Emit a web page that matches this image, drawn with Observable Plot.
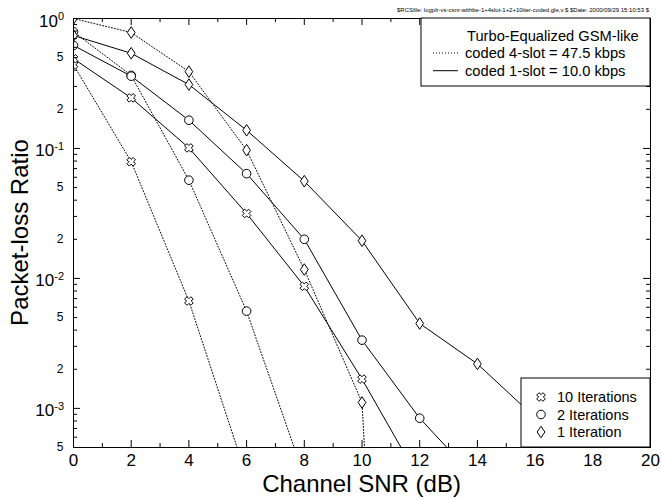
<!DOCTYPE html>
<html>
<head>
<meta charset="utf-8">
<script src="https://cdn.jsdelivr.net/npm/d3@7"></script>
<script src="https://cdn.jsdelivr.net/npm/@observablehq/plot@0.6"></script>
<style>
  html, body { margin: 0; padding: 0; background: #fff; }
  #chart { width: 662px; height: 500px; }
</style>
</head>
<body>
<div id="chart"></div>
<script>
// ---------- data ----------
const xTicks = [0, 2, 4, 6, 8, 10, 12, 14, 16, 18, 20];
const xMinorTicks = [1, 3, 5, 7, 9, 11, 13, 15, 17, 19];
const yDecades = [1, 0.1, 0.01, 0.001];
const yDecadeExponents = ["0", "-1", "-2", "-3"];
const yMinorLabelled = [0.5, 0.2, 0.05, 0.02, 0.005, 0.002, 0.0005];
const yMinorLabels = ["5", "2", "5", "2", "5", "2", "5"];
const yMinorTicks = [0.9, 0.8, 0.7, 0.6, 0.5, 0.4, 0.3, 0.2,
                     0.09, 0.08, 0.07, 0.06, 0.05, 0.04, 0.03, 0.02,
                     0.009, 0.008, 0.007, 0.006, 0.005, 0.004, 0.003, 0.002,
                     0.0009, 0.0008, 0.0007, 0.0006];

// coded 4-slot = 47.5 kbps (dotted)
const slot4Iter10X = [0, 2, 4, 6];
const slot4Iter10Y = [0.44, 0.079, 0.0067, 0.0003];
const slot4Iter2X = [0, 2, 4, 6, 8];
const slot4Iter2Y = [0.79, 0.365, 0.057, 0.0056, 0.0003];
const slot4Iter1X = [0, 2, 4, 6, 8, 10, 11];
const slot4Iter1Y = [1.0, 0.78, 0.39, 0.097, 0.0117, 0.00111, 0.0000001];

// coded 1-slot = 10.0 kbps (solid)
const slot1Iter10X = [0, 2, 4, 6, 8, 10, 12];
const slot1Iter10Y = [0.49, 0.245, 0.101, 0.0316, 0.0087, 0.00168, 0.00028];
const slot1Iter2X = [0, 2, 4, 6, 8, 10, 12, 14];
const slot1Iter2Y = [0.62, 0.36, 0.165, 0.064, 0.020, 0.00335, 0.00084, 0.00028];
const slot1Iter1X = [0, 2, 4, 6, 8, 10, 12, 14, 16];
const slot1Iter1Y = [0.74, 0.54, 0.31, 0.138, 0.056, 0.0195, 0.0045, 0.0022, 0.00085];

const legendTitle = "Turbo-Equalized GSM-like";
const slotLabels = ["coded 4-slot = 47.5 kbps", "coded 1-slot = 10.0 kbps"];
const iterLabels = ["10 Iterations", "2 Iterations", "1 Iteration"];
const xLabel = "Channel SNR (dB)";
const yLabel = "Packet-loss Ratio";
const header = "$RCSfile: logplr-vs-csnr-withbe-1+4slot-1+2+10iter-coded.gle,v $ $Date: 2000/09/29 15:10:53 $";

// ---------- build table ----------
const series = [
  {slot: "4", iter: "10", xs: slot4Iter10X, ys: slot4Iter10Y},
  {slot: "4", iter: "2",  xs: slot4Iter2X,  ys: slot4Iter2Y},
  {slot: "4", iter: "1",  xs: slot4Iter1X,  ys: slot4Iter1Y},
  {slot: "1", iter: "10", xs: slot1Iter10X, ys: slot1Iter10Y},
  {slot: "1", iter: "2",  xs: slot1Iter2X,  ys: slot1Iter2Y},
  {slot: "1", iter: "1",  xs: slot1Iter1X,  ys: slot1Iter1Y}
];
const rows = series.flatMap(s => s.xs.map((x, i) => ({x, y: s.ys[i], slot: s.slot, iter: s.iter, key: s.slot + "-" + s.iter})));

// ---------- custom symbols ----------
const crossSym = {
  draw(ctx, size) {
    const r = Math.sqrt(size / Math.PI);
    const a = r * 1.05, t = r * 0.4;
    const pts = [[t,-a],[t,-t],[a,-t],[a,t],[t,t],[t,a],[-t,a],[-t,t],[-a,t],[-a,-t],[-t,-t],[-t,-a]];
    const c = Math.SQRT1_2;
    pts.forEach(([px, py], i) => {
      const rx = (px - py) * c, ry = (px + py) * c;
      if (i === 0) ctx.moveTo(rx, ry); else ctx.lineTo(rx, ry);
    });
    ctx.closePath();
  }
};
const diamondSym = {
  draw(ctx, size) {
    const r = Math.sqrt(size / Math.PI);
    const w = r * 0.92, h = r * 1.38;
    ctx.moveTo(0, -h); ctx.lineTo(w, 0); ctx.lineTo(0, h); ctx.lineTo(-w, 0); ctx.closePath();
  }
};

// ---------- layout ----------
const W = 662, H = 500;
const M = {top: 18, right: 12, bottom: 53, left: 73};
const innerH = H - M.top - M.bottom;
const innerW = W - M.left - M.right;
const FONT = "'Liberation Sans', Arial, Helvetica, sans-serif";
const majorLen = 7, minorLen = 4;

const dotOpts = (sym, r) => ({x: "x", y: "y", symbol: sym, r, fill: "white", stroke: "black", strokeWidth: 1, clip: true});

const plot = Plot.plot({
  width: W, height: H,
  marginTop: M.top, marginRight: M.right, marginBottom: M.bottom, marginLeft: M.left,
  style: {fontFamily: FONT, background: "white", color: "black", overflow: "visible"},
  x: {domain: [0, 20], axis: null},
  y: {type: "log", domain: [0.0005, 1], axis: null},
  marks: [
    Plot.line(rows.filter(d => d.slot === "4"), {x: "x", y: "y", z: "key", stroke: "black", strokeWidth: 1, strokeDasharray: "1,2", clip: true}),
    Plot.line(rows.filter(d => d.slot === "1"), {x: "x", y: "y", z: "key", stroke: "black", strokeWidth: 1, clip: true}),
    Plot.dot(rows.filter(d => d.iter === "10"), dotOpts(crossSym, 4.2)),
    Plot.dot(rows.filter(d => d.iter === "2"), {x: "x", y: "y", r: 4.3, fill: "white", stroke: "black", strokeWidth: 1, clip: true}),
    Plot.dot(rows.filter(d => d.iter === "1"), dotOpts(diamondSym, 4.2)),
    Plot.frame({stroke: "black", strokeWidth: 1}),
    // inward ticks, all four sides
    Plot.ruleX(xTicks, {x: d => d, insetTop: innerH - majorLen, stroke: "black"}),
    Plot.ruleX(xTicks, {x: d => d, insetBottom: innerH - majorLen, stroke: "black"}),
    Plot.ruleX(xMinorTicks, {x: d => d, insetTop: innerH - minorLen, stroke: "black"}),
    Plot.ruleX(xMinorTicks, {x: d => d, insetBottom: innerH - minorLen, stroke: "black"}),
    Plot.ruleY(yDecades, {y: d => d, insetRight: innerW - majorLen, stroke: "black"}),
    Plot.ruleY(yDecades, {y: d => d, insetLeft: innerW - majorLen, stroke: "black"}),
    Plot.ruleY(yMinorTicks, {y: d => d, insetRight: innerW - minorLen, stroke: "black"}),
    Plot.ruleY(yMinorTicks, {y: d => d, insetLeft: innerW - minorLen, stroke: "black"}),
    // tick labels
    Plot.text(xTicks, {x: d => d, frameAnchor: "bottom", dy: 18, text: d => String(d), fontSize: 17, fill: "black"}),
    Plot.text(yMinorLabelled, {y: d => d, frameAnchor: "left", dx: -10, textAnchor: "end", text: (d, i) => yMinorLabels[i], fontSize: 12, fill: "black"})
  ]
});

document.getElementById("chart").appendChild(plot);

// ---------- extra text, decade labels and legends ----------
const svg = d3.select(plot);
const ys = plot.scale("y");
const g = svg.append("g").attr("font-family", FONT).attr("fill", "black").attr("text-anchor", "start");

// decade labels with superscript
yDecades.forEach((v, i) => {
  const t = g.append("text")
    .attr("x", M.left - 9)
    .attr("y", ys.apply(v) + 8.5)
    .attr("text-anchor", "end")
    .attr("font-size", 17);
  t.append("tspan").text("10");
  t.append("tspan").attr("dy", -6.4).attr("font-size", 11).text(yDecadeExponents[i]);
});

// axis titles
g.append("text")
  .attr("x", M.left + innerW / 2).attr("y", 492)
  .attr("text-anchor", "middle").attr("font-size", 24).text(xLabel);
g.append("text")
  .attr("transform", `translate(28,${M.top + innerH / 2}) rotate(-90)`)
  .attr("text-anchor", "middle").attr("font-size", 24).text(yLabel);

// header stamp
g.append("text")
  .attr("x", 397).attr("y", 12)
  .attr("font-size", 5.6)
  .attr("textLength", 252).attr("lengthAdjust", "spacingAndGlyphs")
  .text(header);

// legend 1 (line styles)
const L1 = {x: 421, y: M.top, w: W - M.right - 421, h: 68};
g.append("rect").attr("x", L1.x).attr("y", L1.y).attr("width", L1.w).attr("height", L1.h)
  .attr("fill", "white").attr("stroke", "black").attr("stroke-width", 1);
g.append("text").attr("x", 467).attr("y", 40.5).attr("font-size", 14.7).text(legendTitle);
[["1,2", 53], [null, 70.7]].forEach(([dash, yy], i) => {
  const ln = g.append("line").attr("x1", 433).attr("x2", 458).attr("y1", yy).attr("y2", yy)
    .attr("stroke", "black").attr("stroke-width", 1);
  if (dash) ln.attr("stroke-dasharray", dash);
  g.append("text").attr("x", 465).attr("y", yy + 5.2).attr("font-size", 14.7).text(slotLabels[i]);
});

// legend 2 (iterations / symbols)
const L2 = {x: 521, y: 378, w: W - M.right - 521, h: H - M.bottom - 378};
g.append("rect").attr("x", L2.x).attr("y", L2.y).attr("width", L2.w).attr("height", L2.h)
  .attr("fill", "white").attr("stroke", "black").attr("stroke-width", 1);
const legSyms = [[crossSym, 4.2], [d3.symbolCircle, 4.3], [diamondSym, 4.2]];
legSyms.forEach(([sym, r], i) => {
  const yy = 397 + i * 17.5;
  g.append("path")
    .attr("d", d3.symbol(sym, Math.PI * r * r)())
    .attr("transform", `translate(541,${yy})`)
    .attr("fill", "white").attr("stroke", "black").attr("stroke-width", 1);
  g.append("text").attr("x", 557).attr("y", yy + 5).attr("font-size", 14.5).text(iterLabels[i]);
});
</script>
</body>
</html>
